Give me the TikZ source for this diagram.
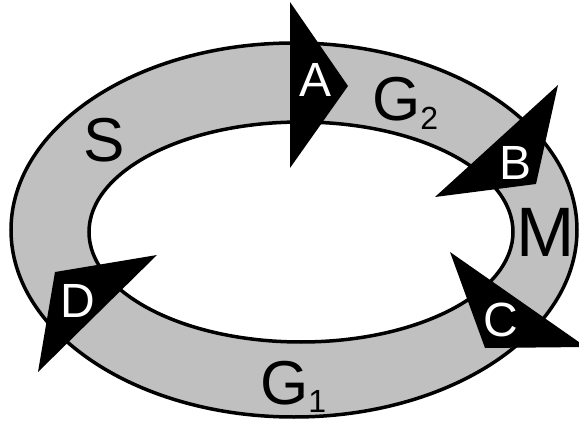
\documentclass[tikz,border=0pt]{standalone}
\usepackage{fontspec}
\setmainfont{Liberation Sans}
\definecolor{ringgray}{RGB}{192,192,192}
\tikzset{
  ringline/.style={line width=3.5pt, draw=black},
  arrowhead/.style={fill=black, draw=none},
  bigtext/.style={anchor=base, inner sep=0pt, text=black, font=\fontsize{62}{62}\selectfont},
  whitetext/.style={anchor=base, inner sep=0pt, text=white, font=\fontsize{48}{48}\selectfont},
}
\newcommand{\subdn}[2]{\raisebox{-#1pt}{\fontsize{32}{32}\selectfont #2}}
\begin{document}
\begin{tikzpicture}[x=1pt,y=-1pt]
\useasboundingbox (0,0) rectangle (579,425);
% ring
\draw[ringline, fill=ringgray] (294,230) ellipse [x radius=283, y radius=187];
\draw[ringline, fill=white] (301,232) ellipse [x radius=212, y radius=110];
% arrowheads
\fill[arrowhead] (290,2) -- (348,86) -- (290,168) -- cycle;
\fill[arrowhead] (558,85) -- (536,184) -- (435,197) -- cycle;
\fill[arrowhead] (450,252) -- (586,347) -- (485,348) -- cycle;
\fill[arrowhead] (157,255) -- (55,272) -- (38,372) -- cycle;
% labels
\node[whitetext] (A) at (316,97) {A};
\node[whitetext] (B) at (516,180) {B};
\node[whitetext] (C) at (501,336) {C};
\node[whitetext] (D) at (78,317) {D};
\node[bigtext] (S) at (104,162) {S};
\node[bigtext, anchor=base west] (G2) at (372,121) {G\subdn{9}{2}};
\node[bigtext, font=\fontsize{70}{70}\selectfont] (M) at (546,256) {M};
\node[bigtext, anchor=base west] (G1) at (260,404) {G\subdn{8}{1}};
\end{tikzpicture}
\end{document}
